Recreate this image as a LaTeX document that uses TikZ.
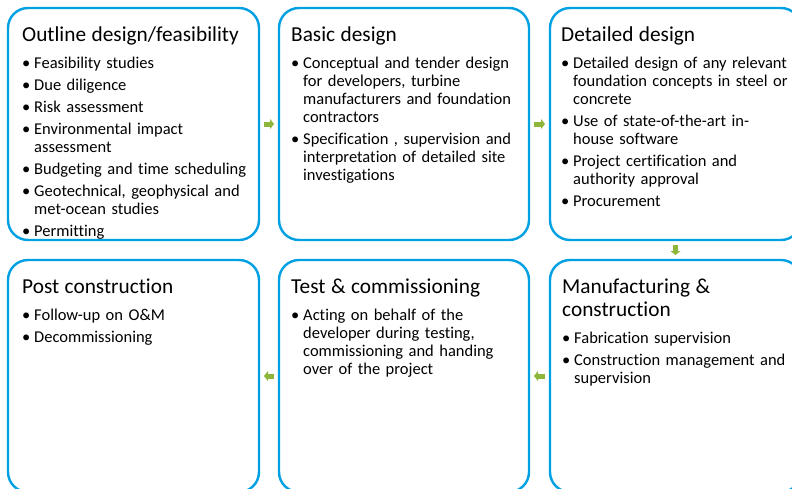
\documentclass[tikz,border=0pt]{standalone}
\usepackage{fontspec}
\setmainfont{Carlito}[Ligatures=NoCommon]
\usetikzlibrary{arrows.meta}

\definecolor{boxblue}{RGB}{0,160,227}
\definecolor{arrowgreen}{RGB}{141,182,58}

% heading of a phase box, then the gap before the bullets
\newcommand{\boxtitle}[1]{\noindent{\fontsize{21.3}{23}\selectfont\rule{0pt}{17pt}#1\par}%
    \setlength{\parskip}{4pt}\vspace{5pt}}
% one bullet, wrapped lines hang under the text
\newcommand{\bitem}[1]{\par\noindent\hangindent=12pt\hangafter=1%
    \makebox[12pt][l]{\textbullet}#1\par}

\begin{document}
\begin{tikzpicture}[x=1pt, y=-1pt,
        box/.style={draw=boxblue, line width=2.4pt, rounded corners=20pt, fill=white,
            minimum width=251pt, minimum height=232pt, inner sep=0pt, outer sep=0pt,
            anchor=north west},
        txt/.style={anchor=north west, inner sep=0pt, text width=240pt, align=left,
            font=\fontsize{16.5}{18}\selectfont},
        flow/.style={draw=arrowgreen, line width=5pt, shorten <=5pt, shorten >=5pt,
            -{Triangle[width=10pt, length=4pt]}}]

    \path[use as bounding box, clip] (0,0) rectangle (792,488);

    % Boxes (phases)
    \node[box] (B1) at (8,8) {};
    \node[box, minimum width=250pt] (B2) at (279,8) {};
    \node[box] (B3) at (550,8) {};
    \node[box] (B4) at (8,260) {};
    \node[box, minimum width=250pt] (B5) at (279,260) {};
    \node[box] (B6) at (550,260) {};

    % Texts
    \node[txt] (T1) at (22,24) {\boxtitle{Outline design/feasibility}
        \bitem{Feasibility studies}
        \bitem{Due diligence}
        \bitem{Risk assessment}
        \bitem{Environmental impact\newline assessment}
        \bitem{Budgeting and time scheduling}
        \bitem{Geotechnical, geophysical and\newline met-ocean studies}
        \bitem{Permitting}};
    \node[txt] (T2) at (291,24) {\boxtitle{Basic design}
        \bitem{Conceptual and tender design\newline for developers, turbine\newline
            manufacturers and foundation\newline contractors}
        \bitem{Specification , supervision and\newline interpretation of detailed site\newline
            investigations}};
    \node[txt] (T3) at (561,24) {\boxtitle{Detailed design}
        \bitem{Detailed design of any relevant\newline foundation concepts in steel or\newline
            concrete}
        \bitem{Use of state-of-the-art in-\newline house software}
        \bitem{Project certification and\newline authority approval}
        \bitem{Procurement}};
    \node[txt] (T4) at (22,276) {\boxtitle{Post construction}
        \bitem{Follow-up on O\&M}
        \bitem{Decommissioning}};
    \node[txt] (T5) at (291,276) {\boxtitle{Test \& commissioning}
        \bitem{Acting on behalf of the\newline developer during testing,\newline
            commissioning and handing\newline over of the project}};
    \node[txt] (T6) at (562,276) {\boxtitle{Manufacturing \&\newline construction}
        \bitem{Fabrication supervision}
        \bitem{Construction management and\newline supervision}};

    % Arrows (flow)
    \draw[flow] (B1.east) -- (B2.west);
    \draw[flow] (B2.east) -- (B3.west);
    \draw[flow] (B3.south) -- (B6.north);
    \draw[flow] (B6.west) -- (B5.east);
    \draw[flow] (B5.west) -- (B4.east);
\end{tikzpicture}
\end{document}
